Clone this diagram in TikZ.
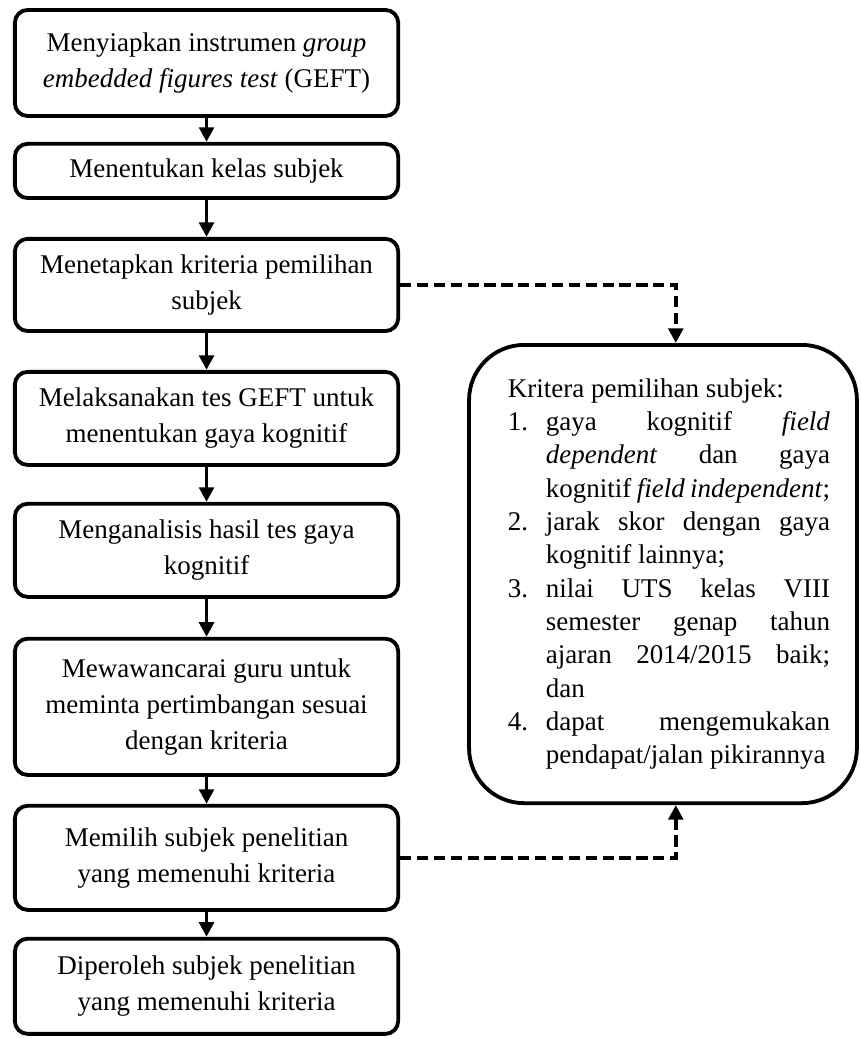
\documentclass[tikz,border=0pt]{standalone}
\usepackage{fontspec}
\setmainfont{Liberation Serif}
\usetikzlibrary{arrows.meta,positioning}

\newcommand{\butir}[1]{\noindent\hangindent=0.594cm\hangafter=1\makebox[0.594cm][l]{#1}}

\begin{document}
\begin{tikzpicture}[every node/.style={font=\fontsize{12pt}{16pt}\selectfont},
    langkah/.style={draw, line width=1.7pt, rounded corners=0.2cm, minimum width=5.99cm, align=center},
    panah/.style={line width=1.7pt, -{Triangle[length=6.5pt,width=6.5pt]}},
    putus/.style={panah, dash pattern=on 5pt off 2.5pt}]
    \useasboundingbox (0,0) rectangle (13.453,-16.234);
    \node[langkah, minimum height=1.657cm] (siap) at (3.227,-0.984) {Menyiapkan instrumen \textit{group}\\ \textit{embedded figures test} (GEFT)};
    \node[langkah, below=0.375cm of siap, minimum height=0.847cm] (kelas) {Menentukan kelas subjek};
    \node[langkah, below=0.578cm of kelas, minimum height=1.44cm] (tetap) {Menetapkan kriteria pemilihan\\ subjek};
    \node[langkah, below=0.578cm of tetap, minimum height=1.455cm] (tes) {Melaksanakan tes GEFT untuk\\ menentukan gaya kognitif};
    \node[langkah, below=0.547cm of tes, minimum height=1.455cm] (analisis) {Menganalisis hasil tes gaya\\ kognitif};
    \node[langkah, below=0.594cm of analisis, minimum height=2.128cm] (wawancara) {Mewawancarai guru untuk\\ meminta pertimbangan sesuai\\ dengan kriteria};
    \node[langkah, below=0.422cm of wawancara, minimum height=1.627cm] (pilih) {Memilih subjek penelitian\\ yang memenuhi kriteria};
    \node[langkah, below=0.39cm of pilih, minimum height=1.487cm] (peroleh) {Diperoleh subjek penelitian\\ yang memenuhi kriteria};
    % kotak kriteria
    \node[draw, line width=1.7pt, rounded corners=0.86cm, minimum width=6.06cm, minimum height=7.16cm,
      inner xsep=0.42cm, text width=5.22cm, align=justify,
      font=\fontsize{12pt}{14.8pt}\selectfont] (krit) at (10.359,-8.969) {%
      \tolerance=10000\hyphenpenalty=10000\leftskip=0.1875cm
      Kritera pemilihan subjek:\par
      \butir{1.}gaya kognitif \textit{field}\linebreak \textit{dependent} dan gaya\linebreak kognitif \textit{field independent};\par
      \butir{2.}jarak skor dengan gaya\linebreak kognitif lainnya;\par
      \butir{3.}nilai UTS kelas VIII\linebreak semester genap tahun\linebreak ajaran 2014/2015 baik;\linebreak dan\par
      \butir{4.}dapat mengemukakan\linebreak pendapat/jalan pikirannya\par};
    \foreach \a/\b in {siap/kelas, kelas/tetap, tetap/tes, tes/analisis, analisis/wawancara, wawancara/pilih, pilih/peroleh}
      \draw[panah] (\a) -- (\b);
    \draw[putus] (tetap.east) -| ([xshift=0.2cm]krit.north);
    \draw[putus] (pilih.east) -| ([xshift=0.2cm]krit.south);
  \end{tikzpicture}
\end{document}
